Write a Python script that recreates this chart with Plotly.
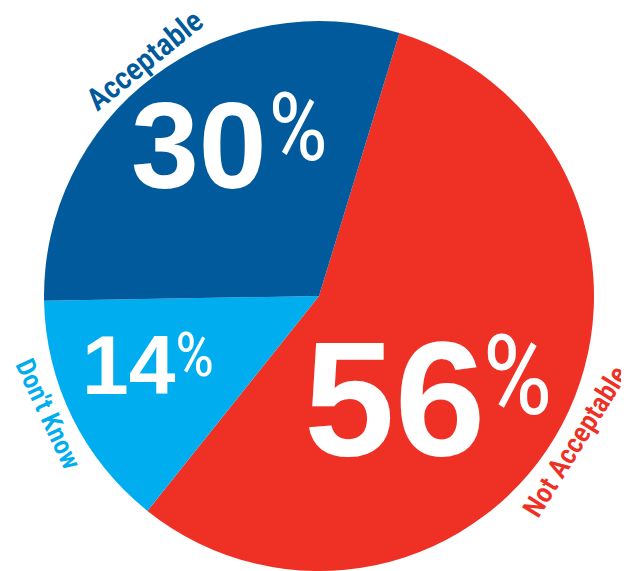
import plotly.graph_objects as go

labels = ["Not Acceptable", "Don't Know", "Acceptable"]
values = [56, 14, 30]
colors = ["#EE3124", "#00AEEF", "#005A9B"]

# the page body adds an 8px offset; work in screen pixels and convert
OFF = 8
W, H = 629 - OFF, 571 - OFF

def px(x, y):
    return (x - OFF) / W, 1 - (y - OFF) / H

cx, cy, r = 319, 296, 275
x0, y1 = px(cx - r, cy - r)
x1, y0 = px(cx + r, cy + r)

fig = go.Figure(go.Pie(
    labels=labels, values=values, sort=False, direction="clockwise",
    rotation=17, marker=dict(colors=colors, line=dict(width=0)),
    textinfo="none", hoverinfo="label+percent", showlegend=False,
    domain=dict(x=[x0, x1], y=[y0, min(y1, 1)]),
))

anns = []
def add(text, x, y, size, color, family, angle=0, weight=None):
    ax, ay = px(x, y)
    f = dict(size=size, color=color, family=family)
    if weight:
        f["weight"] = weight
    anns.append(dict(text=text, x=ax, y=ay, xref="paper", yref="paper",
                     xanchor="center", yanchor="middle", showarrow=False,
                     textangle=angle, font=f))

big = "Liberation Sans"
narrow = "Roboto Condensed, Liberation Sans Narrow, Arial Narrow, Roboto"
num_pos = {"Acceptable": ((199, 146, 122), (298, 127, 95)),
           "Not Acceptable": ((394, 398, 163), (517, 375, 112)),
           "Don't Know": ((129, 365, 84), (194, 354, 62))}
for lab, val in zip(labels, values):
    (nx, ny, ns), (qx, qy, qs) = num_pos[lab]
    add("<b>%d</b>" % val, nx, ny, ns, "white", big)
    add("%", qx, qy, qs, "white", narrow)

add("Acceptable", 144, 60, 31, "#005A9B", narrow, -39, 600)
add("Don't Know", 48, 414, 27, "#00AEEF", narrow, 65, 600)
add("Not Acceptable", 575, 441, 28, "#EE3124", narrow, -58, 600)

fig.update_layout(width=W, height=H, margin=dict(l=0, r=0, t=0, b=0),
                  paper_bgcolor="white", plot_bgcolor="white", annotations=anns)
fig.write_html("out.html")
